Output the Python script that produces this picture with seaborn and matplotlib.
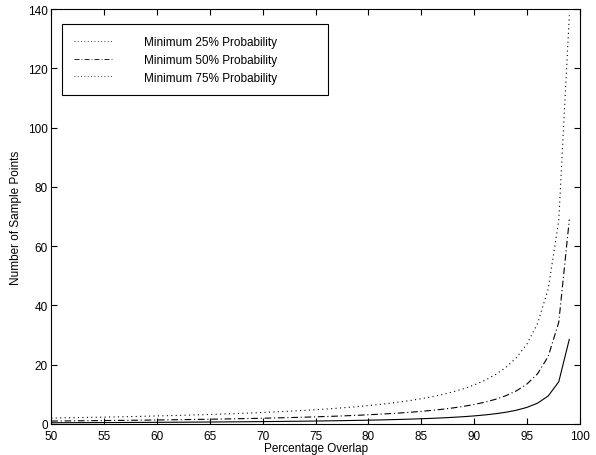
import numpy as np
import pandas as pd
import matplotlib
matplotlib.use("Agg")
import matplotlib.pyplot as plt
import seaborn as sns

# values (x = percentage overlap)
overlap = list(range(50, 100))

p25 = [0.415, 0.427, 0.440, 0.453, 0.467, 0.481, 0.496, 0.512, 0.528, 0.545,
       0.563, 0.582, 0.602, 0.623, 0.645, 0.668, 0.692, 0.718, 0.746, 0.775,
       0.807, 0.840, 0.876, 0.914, 0.955, 1.000, 1.048, 1.101, 1.158, 1.220,
       1.289, 1.365, 1.450, 1.544, 1.650, 1.770, 1.907, 2.066, 2.250, 2.469,
       2.730, 3.050, 3.450, 3.964, 4.649, 5.609, 7.047, 9.445, 14.24, 28.62]

p50 = [1.000, 1.029, 1.060, 1.092, 1.125, 1.159, 1.196, 1.233, 1.273, 1.314,
       1.357, 1.402, 1.450, 1.500, 1.553, 1.609, 1.668, 1.731, 1.797, 1.868,
       1.943, 2.024, 2.110, 2.203, 2.302, 2.409, 2.526, 2.652, 2.790, 2.941,
       3.106, 3.289, 3.493, 3.720, 3.976, 4.265, 4.596, 4.977, 5.422, 5.948,
       6.579, 7.350, 8.313, 9.551, 11.20, 13.51, 16.98, 22.76, 34.31, 68.97]

p75 = [2.000, 2.059, 2.120, 2.184, 2.250, 2.319, 2.391, 2.466, 2.545, 2.627,
       2.714, 2.805, 2.900, 3.000, 3.106, 3.218, 3.336, 3.462, 3.595, 3.736,
       3.887, 4.048, 4.220, 4.405, 4.604, 4.819, 5.051, 5.304, 5.580, 5.881,
       6.213, 6.579, 6.986, 7.440, 7.951, 8.530, 9.192, 9.955, 10.84, 11.90,
       13.16, 14.70, 16.63, 19.10, 22.40, 27.03, 33.96, 45.51, 68.62, 137.9]

labels = ["Minimum 25% Probability", "Minimum 50% Probability", "Minimum 75% Probability"]

df = pd.DataFrame({"overlap": overlap, "p25": p25, "p50": p50, "p75": p75})

sns.set_style("ticks")
plt.rcParams['font.family'] = ['Liberation Sans', 'DejaVu Sans']
plt.rcParams['font.size'] = 8.5
for k in ["text.color", "axes.labelcolor", "xtick.color", "ytick.color", "axes.edgecolor"]:
    plt.rcParams[k] = "black"

fig, ax = plt.subplots(figsize=(5.96, 4.56), dpi=100)
fig.subplots_adjust(left=0.086, right=0.973, top=0.978, bottom=0.068)

dashdot = (0, (6, 2.5, 1, 2.5))
dotted = (0, (1, 3))

sns.lineplot(data=df, x="overlap", y="p25", ax=ax, color="black", lw=0.8,
             linestyle="-", label="_nolegend_")
sns.lineplot(data=df, x="overlap", y="p50", ax=ax, color="black", lw=0.8,
             linestyle=dashdot, label="_nolegend_")
sns.lineplot(data=df, x="overlap", y="p75", ax=ax, color="black", lw=0.8,
             linestyle=dotted, label="_nolegend_")

# legend as drawn in the original (entries do not match the curve styles)
h1, = ax.plot([], [], color="black", lw=0.6, linestyle=dotted)
h2, = ax.plot([], [], color="black", lw=0.6, linestyle=dashdot)
h3, = ax.plot([], [], color="black", lw=0.6, linestyle=dotted)
leg = ax.legend([h1, h2, h3], labels, loc="upper left", mode="expand",
                bbox_to_anchor=(0.021, 0.964, 0.503, 0.0), fancybox=False,
                framealpha=1, edgecolor="black", handlelength=3.4,
                handletextpad=2.5, borderpad=1.0, labelspacing=0.5,
                borderaxespad=0, fontsize=8.5)
leg.get_frame().set_linewidth(0.8)

ax.set_xlim(50, 100)
ax.set_ylim(0, 140)
ax.set_xticks(range(50, 101, 5))
ax.set_yticks(range(0, 141, 20))
ax.set_xlabel("Percentage Overlap", labelpad=0)
ax.set_ylabel("Number of Sample Points", labelpad=4)
ax.tick_params(direction="in", top=True, right=True, length=4, width=0.8,
               labelsize=8.5)
ax.tick_params(axis="x", pad=4)
ax.tick_params(axis="y", pad=2.5)
for s in ax.spines.values():
    s.set_linewidth(0.8)
    s.set_visible(True)

fig.savefig("out.png", dpi=100)
